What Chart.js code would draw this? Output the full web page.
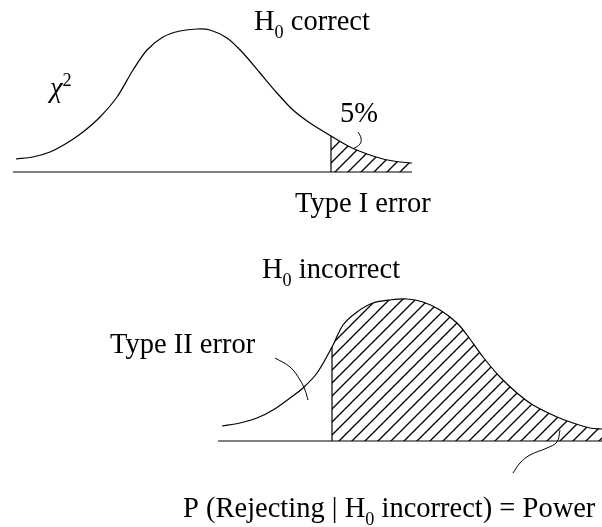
<!DOCTYPE html>
<html>
<head>
<meta charset="utf-8">
<script src="https://cdn.jsdelivr.net/npm/chart.js@4"></script>
<style>
  html, body { margin: 0; padding: 0; background: #fff; }
  #wrap { width: 602px; height: 527px; }
</style>
</head>
<body>
<div id="wrap"><canvas id="diagram" width="602" height="527"></canvas></div>
<script>
// Curva superior (H0 correcto)
const h0CorrectX = [16, 33, 50, 67, 83, 100, 117, 133, 147, 163, 180, 197, 210, 227, 243, 260, 277, 293, 310, 331, 350, 367, 383, 400, 412];
const h0CorrectY = [159, 157, 152, 143, 132, 117, 97, 70, 50, 37, 31, 29, 30, 38, 53, 73, 93, 110, 123, 136, 147, 154, 159, 162, 163];
const topBaseY = 172;
const topBaseX = [13, 412];
const topCriticalX = 331;

// Curva inferior (H0 incorrecto)
const h0IncorrectX = [222, 240, 257, 273, 290, 303, 317, 332, 343, 357, 373, 390, 407, 423, 440, 457, 467, 483, 500, 517, 533, 557, 573, 590, 602];
const h0IncorrectY = [426, 423, 418, 410, 398, 388, 373, 347, 325, 312, 303, 300, 299, 302, 310, 323, 335, 357, 377, 393, 405, 417, 423, 428, 429];
const bottomBaseY = 441;
const bottomBaseX = [218, 602];
const bottomCriticalX = 332;

// Líneas guía de las etiquetas
const fivePctLeaderX = [358, 361, 360, 353];
const fivePctLeaderY = [132, 138, 144, 149];
const typeIILeaderX = [275, 290, 300, 305, 308];
const typeIILeaderY = [358, 367, 380, 390, 400];
const powerLeaderX = [513, 520, 530, 547, 557, 560];
const powerLeaderY = [473, 463, 455, 448, 442, 430];

// Etiquetas: segmentos de texto con subíndices / superíndices
const LABELS = [
    { x: 254, y: 30, parts: [['H'], ['0', 'sub'], [' correct']] },
    { x: 50, y: 97, parts: [['\u03C7', 'italic'], ['2', 'sup']] },
    { x: 340, y: 122, parts: [['5%']] },
    { x: 295, y: 212, parts: [['Type I error']] },
    { x: 262, y: 278, parts: [['H'], ['0', 'sub'], [' incorrect']] },
    { x: 110, y: 353, parts: [['Type II error']] },
    { x: 183, y: 517, parts: [['P (Rejecting | H'], ['0', 'sub'], [' incorrect) = Power']] },
];

const FONT_SIZE = 28.5;
const FONT_FAMILY = '"Liberation Serif", "Times New Roman", serif';
const INK = '#000';

const pts = (xs, ys) => xs.map((x, i) => ({ x, y: ys[i] }));

function tail(xs, ys, fromX) {
    const out = [];
    xs.forEach((x, i) => { if (x >= fromX) out.push({ x, y: ys[i] }); });
    return out;
}

function hatchPattern(size) {
    const c = document.createElement('canvas');
    c.width = size; c.height = size;
    const g = c.getContext('2d');
    g.strokeStyle = INK;
    g.lineWidth = 1.3;
    g.beginPath();
    g.moveTo(-1, size + 1); g.lineTo(size + 1, -1);
    g.moveTo(-1, 1); g.lineTo(1, -1);
    g.moveTo(size - 1, size + 1); g.lineTo(size + 1, size - 1);
    g.stroke();
    return document.getElementById('diagram').getContext('2d').createPattern(c, 'repeat');
}

const hatch = hatchPattern(13);

const line = (data, extra = {}) => ({
    data,
    showLine: true,
    borderColor: INK,
    borderWidth: 1.2,
    pointRadius: 0,
    fill: false,
    tension: 0,
    ...extra,
});

const labelPlugin = {
    id: 'labels',
    afterDraw(chart) {
        const { ctx, scales } = chart;
        ctx.save();
        ctx.fillStyle = INK;
        ctx.textBaseline = 'alphabetic';
        LABELS.forEach(lbl => {
            let px = scales.x.getPixelForValue(lbl.x);
            const py = scales.y.getPixelForValue(lbl.y);
            lbl.parts.forEach(([text, kind]) => {
                let size = FONT_SIZE, dy = 0, style = '';
                if (kind === 'sub') { size = FONT_SIZE * 0.64; dy = FONT_SIZE * 0.27; }
                if (kind === 'sup') { size = FONT_SIZE * 0.64; dy = -FONT_SIZE * 0.38; }
                if (kind === 'italic') style = 'italic ';
                ctx.font = `${style}${size}px ${FONT_FAMILY}`;
                ctx.fillText(text, px, py + dy);
                px += ctx.measureText(text).width;
            });
        });
        ctx.restore();
    }
};

new Chart(document.getElementById('diagram'), {
    type: 'scatter',
    data: {
        datasets: [
            // áreas rayadas
            line(tail(h0CorrectX, h0CorrectY, topCriticalX), {
                borderWidth: 0, backgroundColor: hatch, fill: { value: topBaseY }, tension: 0.3,
            }),
            line(tail(h0IncorrectX, h0IncorrectY, bottomCriticalX), {
                borderWidth: 0, backgroundColor: hatch, fill: { value: bottomBaseY }, tension: 0.3,
            }),
            // curvas
            line(pts(h0CorrectX, h0CorrectY), { tension: 0.3 }),
            line(pts(h0IncorrectX, h0IncorrectY), { tension: 0.3 }),
            // ejes base
            line(topBaseX.map(x => ({ x, y: topBaseY }))),
            line(bottomBaseX.map(x => ({ x, y: bottomBaseY }))),
            // valores críticos
            line([{ x: topCriticalX, y: topBaseY }, { x: topCriticalX, y: h0CorrectY[h0CorrectX.indexOf(topCriticalX)] }]),
            line([{ x: bottomCriticalX, y: bottomBaseY }, { x: bottomCriticalX, y: h0IncorrectY[h0IncorrectX.indexOf(bottomCriticalX)] }]),
            // guías
            line(pts(fivePctLeaderX, fivePctLeaderY), { tension: 0.4, borderWidth: 1 }),
            line(pts(typeIILeaderX, typeIILeaderY), { tension: 0.4, borderWidth: 1 }),
            line(pts(powerLeaderX, powerLeaderY), { tension: 0.4, borderWidth: 1 }),
        ]
    },
    options: {
        responsive: false,
        animation: false,
        layout: { padding: 0 },
        plugins: { legend: { display: false }, tooltip: { enabled: false } },
        scales: {
            x: { type: 'linear', min: 0, max: 602, display: false },
            y: { type: 'linear', min: 0, max: 527, reverse: true, display: false },
        }
    },
    plugins: [labelPlugin]
});
</script>
</body>
</html>
